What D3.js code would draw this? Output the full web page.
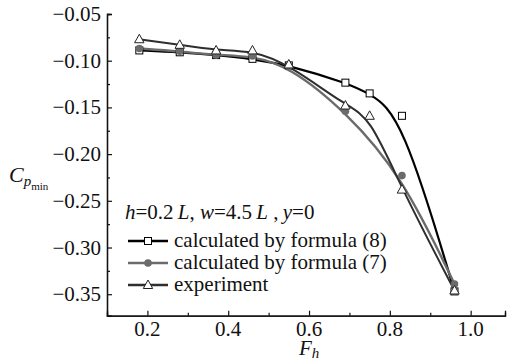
<!DOCTYPE html>
<html>
<head>
<meta charset="utf-8">
<script src="https://cdn.jsdelivr.net/npm/d3@7"></script>
<style>
  body { margin: 0; background: #fff; }
</style>
</head>
<body>
<div id="chart"></div>
<script>
// Froude number values for each series
var fhF8 = [0.18, 0.28, 0.37, 0.46, 0.55, 0.69, 0.75, 0.83, 0.96];
var cpF8 = [-0.089, -0.091, -0.094, -0.098, -0.105, -0.1235, -0.135, -0.159, -0.347];

var fhF7 = [0.18, 0.28, 0.37, 0.46, 0.55, 0.69, 0.83, 0.96];
var cpF7 = [-0.087, -0.090, -0.094, -0.095, -0.106, -0.154, -0.223, -0.339];

var fhExp = [0.18, 0.28, 0.37, 0.46, 0.55, 0.69, 0.75, 0.83, 0.96];
var cpExp = [-0.077, -0.083, -0.089, -0.089, -0.104, -0.148, -0.159, -0.238, -0.346];

var yTicks = [-0.05, -0.10, -0.15, -0.20, -0.25, -0.30, -0.35];
var yMinor = [-0.075, -0.125, -0.175, -0.225, -0.275, -0.325];
var xTicks = [0.2, 0.4, 0.6, 0.8, 1.0];
var xMinor = [0.3, 0.5, 0.7, 0.9];

var legendLabels = ["calculated by formula (8)", "calculated by formula (7)", "experiment"];

var chartW = 507, chartH = 362;
var plotL = 107, plotT = 14, plotR = 505, plotB = 315.7;

var svg = d3.select("#chart").append("svg")
    .attr("width", chartW)
    .attr("height", chartH);

// every text gets the Times-like face directly
function addText(g) {
    return g.append("text")
        .style("font-family", "'Liberation Serif'")
        .attr("fill", "#111");
}

var x = d3.scaleLinear().domain([0.1, 1.085]).range([plotL, plotR]);
var y = d3.scaleLinear().domain([-0.373, -0.05]).range([plotB, plotT]);

// axes, ticks pointing inward
var yAxis = svg.append("g")
    .attr("transform", "translate(" + plotL + ",0)")
    .call(d3.axisRight(y).tickValues(yTicks).tickSize(5).tickFormat(""));
var yAxisMinor = svg.append("g")
    .attr("transform", "translate(" + plotL + ",0)")
    .call(d3.axisRight(y).tickValues(yMinor).tickSize(3).tickFormat(""));
var xAxis = svg.append("g")
    .attr("transform", "translate(0," + plotB + ")")
    .call(d3.axisTop(x).tickValues(xTicks).tickSize(5).tickFormat(""));
var xAxisMinor = svg.append("g")
    .attr("transform", "translate(0," + plotB + ")")
    .call(d3.axisTop(x).tickValues(xMinor).tickSize(3).tickFormat(""));

[yAxis, yAxisMinor, xAxis, xAxisMinor].forEach(function(a) {
    a.select(".domain").attr("stroke", "#111").attr("stroke-width", 1.3);
    a.selectAll(".tick line").attr("stroke", "#111").attr("stroke-width", 1.2);
});

// tick labels
var yLabels = svg.append("g");
yTicks.forEach(function(d) {
    addText(yLabels)
        .attr("x", plotL - 6)
        .attr("y", y(d) + 7)
        .attr("text-anchor", "end")
        .style("font-size", "21px")
        .text(d3.format(".2f")(d));
});

var xLabels = svg.append("g");
xTicks.forEach(function(d) {
    addText(xLabels)
        .attr("x", x(d))
        .attr("y", plotB + 20)
        .attr("text-anchor", "middle")
        .style("font-size", "21px")
        .text(d3.format(".1f")(d));
});

// axis titles
var yTitle = addText(svg)
    .attr("x", 9)
    .attr("y", 182)
    .style("font-size", "22px")
    .style("font-style", "italic");
yTitle.append("tspan").text("C");
yTitle.append("tspan").attr("dy", 4).style("font-size", "15px").text("p");
yTitle.append("tspan").attr("dy", 4).style("font-size", "11px").style("font-style", "normal").text("min");

var xTitle = addText(svg)
    .attr("x", 299)
    .attr("y", 355)
    .style("font-size", "21px")
    .style("font-style", "italic");
xTitle.append("tspan").text("F");
xTitle.append("tspan").attr("dy", 3).style("font-size", "15px").text("h");

// series
var series = [
    {name: legendLabels[0], fh: fhF8, cp: cpF8, color: "#000", marker: "square", width: 2.2},
    {name: legendLabels[1], fh: fhF7, cp: cpF7, color: "#6b6b6b", marker: "circle", width: 2.4},
    {name: legendLabels[2], fh: fhExp, cp: cpExp, color: "#2e2e2e", marker: "triangle", width: 2}
];

var line = d3.line()
    .x(function(d) { return x(d[0]); })
    .y(function(d) { return y(d[1]); })
    .curve(d3.curveBasis);

series.forEach(function(s) {
    s.points = s.fh.map(function(f, i) { return [f, s.cp[i]]; });
});

svg.append("g").selectAll("path")
    .data(series).enter().append("path")
    .attr("d", function(s) { return line(s.points); })
    .attr("fill", "none")
    .attr("stroke", function(s) { return s.color; })
    .attr("stroke-width", function(s) { return s.width; });

function drawMarker(g, type, cx, cy) {
    if (type == "square") {
        g.append("rect")
            .attr("x", cx - 3.5).attr("y", cy - 3.5)
            .attr("width", 7).attr("height", 7)
            .attr("fill", "#fff").attr("stroke", "#000").attr("stroke-width", 1);
    } else if (type == "circle") {
        g.append("circle")
            .attr("cx", cx).attr("cy", cy).attr("r", 3.8)
            .attr("fill", "#6b6b6b");
    } else {
        g.append("path")
            .attr("d", "M" + cx + "," + (cy - 5) + "L" + (cx + 4.7) + "," + (cy + 3.5) + "L" + (cx - 4.7) + "," + (cy + 3.5) + "Z")
            .attr("fill", "#fff").attr("stroke", "#222").attr("stroke-width", 1);
    }
}

var markers = svg.append("g");
series.forEach(function(s) {
    s.points.forEach(function(p) {
        drawMarker(markers, s.marker, x(p[0]), y(p[1]));
    });
});

// legend
var legend = svg.append("g");
var header = addText(legend)
    .attr("x", 125)
    .attr("y", 219)
    .style("font-size", "21px");
header.append("tspan").style("font-style", "italic").text("h");
header.append("tspan").text("=0.2\u2009");
header.append("tspan").style("font-style", "italic").text("L");
header.append("tspan").text(", ");
header.append("tspan").style("font-style", "italic").text("w");
header.append("tspan").text("=4.5\u2009");
header.append("tspan").style("font-style", "italic").text("L");
header.append("tspan").text(" ,\u2009");
header.append("tspan").style("font-style", "italic").text("y");
header.append("tspan").text("=0");

series.forEach(function(s, i) {
    var ly = 241 + i * 22;
    legend.append("line")
        .attr("x1", 128).attr("x2", 168)
        .attr("y1", ly).attr("y2", ly)
        .attr("stroke", s.color)
        .attr("stroke-width", 2.4);
    drawMarker(legend, s.marker, 148, ly);
    addText(legend)
        .attr("x", 174)
        .attr("y", ly + 6)
        .style("font-size", "21px")
        .text(s.name);
});
</script>
</body>
</html>
